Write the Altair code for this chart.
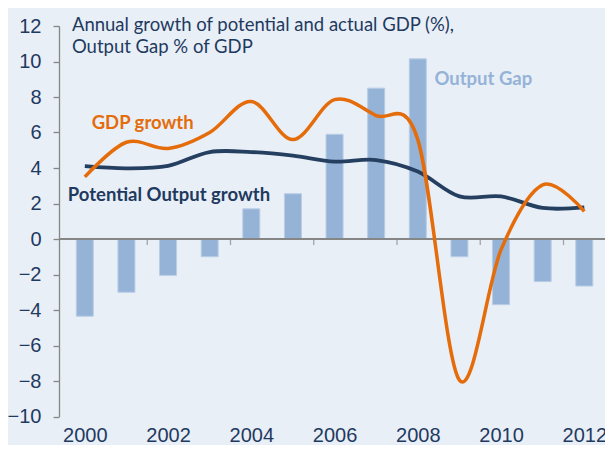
import altair as alt
import pandas as pd

years = list(range(2000, 2013))
output_gap = [-4.35, -3.0, -2.05, -1.0, 1.7, 2.55, 5.9, 8.5, 10.15, -1.0, -3.7, -2.4, -2.65]
gdp_growth = [3.5, 5.45, 5.1, 6.0, 7.75, 5.6, 7.85, 6.95, 5.6, -7.95, -0.6, 3.05, 1.55]
potential_growth = [4.1, 3.98, 4.12, 4.9, 4.9, 4.7, 4.36, 4.45, 3.8, 2.4, 2.4, 1.75, 1.78]
y_ticks = list(range(-10, 13, 2))
x_labels = list(range(2000, 2013, 2))

df = pd.DataFrame({"year": years, "gap": output_gap, "gdp": gdp_growth, "pot": potential_growth})
bounds = pd.DataFrame({"b": [y + 0.5 for y in years[1::2]]})

NAVY = "#1F3A5F"
ORANGE = "#E46C0A"
BAR = "#95B3D7"
GRAY = "#868686"

xs = alt.Scale(domain=[1999.5, 2012.377], nice=False, zero=False)
ys = alt.Scale(domain=[-10, 12], nice=False)

xaxis = alt.Axis(values=x_labels, tickCount=len(x_labels), format="d", title=None,
                 domain=False, ticks=False, grid=False,
                 labelPadding=8.5, labelFontSize=20,
                 labelOverlap=False, labelFlush=17, labelFlushOffset=9,
                 labelColor=NAVY, labelFont="Liberation Sans")
yaxis = alt.Axis(values=y_ticks, tickCount=len(y_ticks), title=None, grid=False,
                 domainColor=GRAY, tickColor=GRAY, tickSize=6,
                 domainWidth=1.3, tickWidth=1.3,
                 labelOverlap=False, labelFlush=False,
                 labelPadding=12, labelFontSize=20,
                 labelColor=NAVY, labelFont="Liberation Sans")


def X(field):
    return alt.X(field, scale=xs, axis=xaxis)


def Y(field):
    return alt.Y(field, scale=ys, axis=yaxis)


base = alt.Chart(df)

bars = base.mark_bar(size=17, color=BAR, stroke="#B9CDE5", strokeWidth=1).encode(
    x=X("year:Q"), y=Y("gap:Q")
)

zero = alt.Chart(df).mark_rule(color=GRAY, strokeWidth=1.3).encode(y=alt.datum(0))

ticks = alt.Chart(bounds).mark_tick(orient="vertical", size=6, thickness=1.3, yOffset=3, color=GRAY).encode(
    x=X("b:Q"), y=alt.datum(0)
)

pot_line = base.mark_line(color="#243F60", strokeWidth=3.8, interpolate="cardinal").encode(
    x=X("year:Q"), y=Y("pot:Q")
)
gdp_line = base.mark_line(color=ORANGE, strokeWidth=3.5, interpolate="cardinal").encode(
    x=X("year:Q"), y=Y("gdp:Q")
)

title_df = pd.DataFrame({
    "t": ["Annual growth of potential and actual GDP (%),", "Output Gap % of GDP"],
    "x": [1999.69, 1999.69],
    "y": [11.73, 10.46],
})
title = alt.Chart(title_df).mark_text(align="left", baseline="alphabetic", font="Lato",
                                      fontSize=18.5, color=NAVY).encode(
    x=X("x:Q"), y=Y("y:Q"), text="t:N"
)

lab_df = pd.DataFrame({
    "t": ["GDP growth", "Potential Output growth", "Output Gap"],
    "x": [2000.165, 1999.59, 2008.40],
    "y": [6.2, 2.14, 8.68],
    "c": [ORANGE, NAVY, BAR],
})
labels = alt.Chart(lab_df).mark_text(align="left", baseline="alphabetic", font="Lato",
                                     fontSize=18.5, fontWeight="bold").encode(
    x=X("x:Q"), y=Y("y:Q"), text="t:N",
    color=alt.Color("c:N", scale=None)
)

chart = alt.layer(bars, zero, ticks, pot_line, gdp_line, title, labels).properties(
    width=546, height=390.5,
    background="#E9EFF7",
    padding={"left": 51, "top": 18, "right": 0, "bottom": 28.5},
    autosize=alt.AutoSizeParams(type="none"),
).configure_view(stroke=None).configure_axis(labelOverlap=False)

chart.save("out.html", embed_options={"renderer": "svg", "actions": False})
